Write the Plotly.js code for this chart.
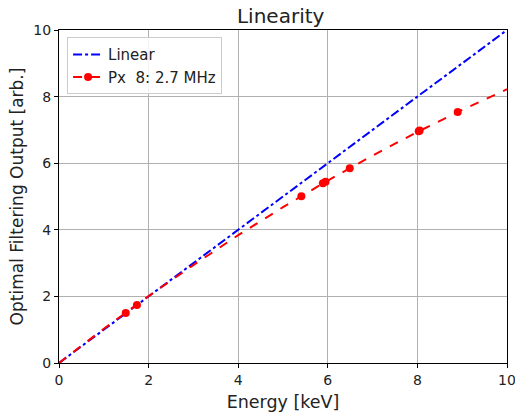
<!DOCTYPE html>
<html>
<head>
<meta charset="utf-8">
<script src="https://cdn.plot.ly/plotly-3.0.1.min.js"></script>
<style>html,body{margin:0;padding:0;background:#fff;}#chart{width:515px;height:413px;}</style>
</head>
<body>
<div id="chart"></div>
<script>
// Linear reference
var linearX = [0, 10];
var linearY = [0, 10];
// Measured points (keV, output)
var pointX = [1.49, 1.74, 5.41, 5.89, 5.95, 6.49, 8.03, 8.05, 8.90];
var pointY = [1.50, 1.74, 5.01, 5.40, 5.44, 5.85, 6.96, 6.98, 7.54];
// Fit curve
var fitX = [0, 1, 2, 3, 4, 5, 6, 7, 8, 9, 10];
var fitY = [0, 1.03, 2.01, 2.94, 3.84, 4.68, 5.48, 6.23, 6.94, 7.60, 8.22];
var tickVals = [0, 2, 4, 6, 8, 10];
var pxLabel = 'Px  8: 2.7 MHz';

var font = 'DejaVu Sans, sans-serif';
var traces = [
  {x: linearX, y: linearY, mode: 'lines', name: 'Linear',
   line: {color: '#0000ff', dash: 'dashdot', width: 2}},
  {x: fitX, y: fitY, mode: 'lines', showlegend: false,
   line: {color: '#ff0000', dash: 'dash', width: 2}},
  {x: pointX, y: pointY, mode: 'markers', showlegend: false,
   marker: {color: '#ff0000', size: 8}},
  {x: [null], y: [null], mode: 'lines+markers', name: pxLabel,
   line: {color: '#ff0000', dash: 'dash', width: 2},
   marker: {color: '#ff0000', size: 8}}
];
var axisCommon = {
  tickvals: tickVals, showgrid: true, gridcolor: '#b0b0b0', gridwidth: 1,
  zeroline: false, showline: true, linecolor: '#000', linewidth: 1, mirror: true,
  ticks: 'outside', ticklen: 4, tickcolor: '#000', ticklabeloverflow: 'allow',
  tickfont: {size: 14, color: '#222', family: font}
};
var layout = {
  width: 515, height: 413,
  margin: {l: 59, r: 8, t: 30, b: 50},
  paper_bgcolor: '#fff', plot_bgcolor: '#fff',
  font: {family: font, color: '#222'},
  title: {text: 'Linearity', font: {size: 20, family: font, color: '#222'}, x: 0.545, xanchor: 'center', y: 0.962, yanchor: 'middle'},
  xaxis: Object.assign({}, axisCommon, {range: [0, 10], title: {text: 'Energy [keV]', font: {size: 17.5, family: font}, standoff: 8}}),
  yaxis: Object.assign({}, axisCommon, {range: [0, 10], title: {text: 'Optimal Filtering Output [arb.]', font: {size: 17, family: font}, standoff: 5}}),
  legend: {x: 0.018, y: 0.978, xanchor: 'left', yanchor: 'top', bgcolor: 'rgba(255,255,255,0.85)',
           bordercolor: '#cccccc', borderwidth: 1, tracegroupgap: 0, itemwidth: 30,
           font: {size: 15, family: font, color: '#222'}},
  showlegend: true
};
Plotly.newPlot('chart', traces, layout, {staticPlot: true});
</script>
</body>
</html>
